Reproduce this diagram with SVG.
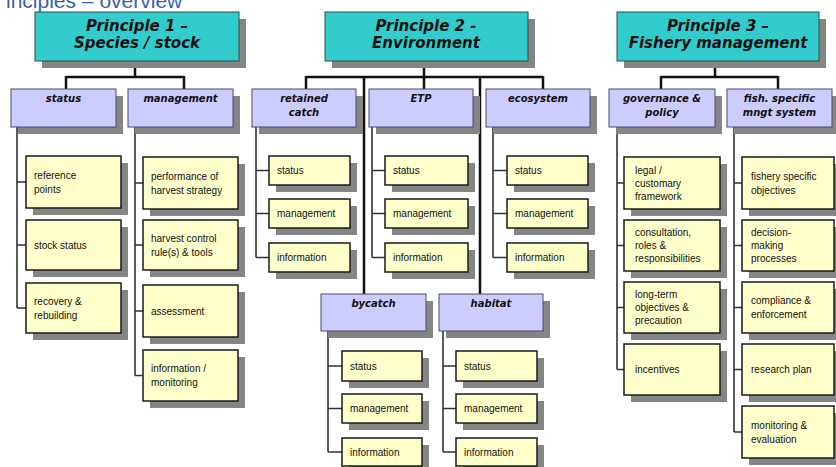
<svg xmlns="http://www.w3.org/2000/svg" width="836" height="467" viewBox="0 0 836 467">
<style>
.sh{fill:#858585}
.p{fill:#33CCCC;stroke:#2f4f4f;stroke-width:1}
.c{fill:#CCCCFF;stroke:#4a4a66;stroke-width:1}
.l{fill:#FFFFCC;stroke:#1a1a1a;stroke-width:1.5}
.ht{font-family:"DejaVu Sans",sans-serif;font-weight:bold;font-style:italic;font-size:15px;text-anchor:middle;fill:#111}
.ct{font-family:"DejaVu Sans",sans-serif;font-weight:bold;font-style:italic;font-size:10px;text-anchor:middle;fill:#111}
.lt{font-family:"Liberation Sans",Arial,sans-serif;font-size:10px;fill:#111}
.cn{stroke:#111;stroke-width:2.5;fill:none}
.lk{stroke:#333;stroke-width:1.6;fill:none}
.title{font-family:"Liberation Sans",Arial,sans-serif;font-size:21px;fill:#3a5fb0}
</style>
<rect width="836" height="467" fill="#ffffff"/>
<text class="title" x="6" y="8">inciples – overview</text>

<g id="connectors">
<path class="cn" d="M135 61V77M66 77H184M66 76V89M184 76V89"/>
<path class="cn" d="M424 61V77M306 77H543M306 76V89M424 76V89M543 76V89M364 77V294M480 77V294"/>
<path class="cn" d="M715 61V77M661 77H778M661 76V89M778 76V89"/>
<path class="lk" d="M17 127V308M17 182H26M17 245H26M17 308H26"/>
<path class="lk" d="M135 127V375.5M135 183H143M135 245H143M135 311H143M135 375.5H143"/>
<path class="lk" d="M256 127V257.5M256 170.5H269M256 213.5H269M256 257.5H269"/>
<path class="lk" d="M372 127V257.5M372 170.5H385M372 213.5H385M372 257.5H385"/>
<path class="lk" d="M493 127V257.5M493 170.5H507M493 213.5H507M493 257.5H507"/>
<path class="lk" d="M328 331V452M328 366H342M328 408.5H342M328 452H342"/>
<path class="lk" d="M443 331V452M443 366H456M443 408.5H456M443 452H456"/>
<path class="lk" d="M617 127V369.5M617 183H624M617 245.5H624M617 307.5H624M617 369.5H624"/>
<path class="lk" d="M734 127V432M734 183H742M734 245.5H742M734 307.5H742M734 369.5H742M734 432H742"/>
</g>

<g id="p1"><rect class="sh" x="42" y="19" width="204" height="49"/><rect class="p" x="35" y="12" width="204" height="49"/><text class="ht" x="137" y="31">Principle 1 –</text><text class="ht" x="137" y="48">Species / stock</text></g>
<g id="p2"><rect class="sh" x="332" y="19" width="203" height="49"/><rect class="p" x="325" y="12" width="203" height="49"/><text class="ht" x="426" y="31">Principle 2 -</text><text class="ht" x="426" y="48">Environment</text></g>
<g id="p3"><rect class="sh" x="624" y="19" width="202" height="49"/><rect class="p" x="617" y="12" width="202" height="49"/><text class="ht" x="718" y="31">Principle 3 –</text><text class="ht" x="718" y="48">Fishery management</text></g>

<g id="p1-status"><rect class="sh" x="18" y="96" width="105" height="38"/><rect class="c" x="11" y="89" width="105" height="38"/><text class="ct" x="63.5" y="102">status</text></g>
<g id="p1-management"><rect class="sh" x="135" y="96" width="105" height="38"/><rect class="c" x="128" y="89" width="105" height="38"/><text class="ct" x="180.5" y="102">management</text></g>
<g id="p2-retained"><rect class="sh" x="259" y="96" width="104" height="38"/><rect class="c" x="252" y="89" width="104" height="38"/><text class="ct" x="304" y="102">retained</text><text class="ct" x="304" y="116">catch</text></g>
<g id="p2-etp"><rect class="sh" x="376" y="96" width="104" height="38"/><rect class="c" x="369" y="89" width="104" height="38"/><text class="ct" x="421" y="102">ETP</text></g>
<g id="p2-ecosystem"><rect class="sh" x="493" y="96" width="104" height="38"/><rect class="c" x="486" y="89" width="104" height="38"/><text class="ct" x="538" y="102">ecosystem</text></g>
<g id="p2-bycatch"><rect class="sh" x="328" y="301" width="105" height="37"/><rect class="c" x="321" y="294" width="105" height="37"/><text class="ct" x="373.5" y="307">bycatch</text></g>
<g id="p2-habitat"><rect class="sh" x="446" y="301" width="104" height="37"/><rect class="c" x="439" y="294" width="104" height="37"/><text class="ct" x="491" y="307">habitat</text></g>
<g id="p3-governance"><rect class="sh" x="616" y="96" width="106" height="38"/><rect class="c" x="609" y="89" width="106" height="38"/><text class="ct" x="662" y="102">governance &amp;</text><text class="ct" x="662" y="116">policy</text></g>
<g id="p3-fishery"><rect class="sh" x="734" y="96" width="105" height="38"/><rect class="c" x="727" y="89" width="105" height="38"/><text class="ct" x="779.5" y="102">fish. specific</text><text class="ct" x="779.5" y="116">mngt system</text></g>

<g id="leaf-reference-points"><rect class="sh" x="33" y="163" width="95" height="52"/><rect class="l" x="26" y="156" width="95" height="52"/><text class="lt" x="34" y="178.5">reference</text><text class="lt" x="34" y="192.5">points</text></g>
<g id="leaf-stock-status"><rect class="sh" x="33" y="227" width="95" height="50"/><rect class="l" x="26" y="220" width="95" height="50"/><text class="lt" x="34" y="248.5">stock status</text></g>
<g id="leaf-recovery"><rect class="sh" x="33" y="290" width="95" height="50"/><rect class="l" x="26" y="283" width="95" height="50"/><text class="lt" x="34" y="304.5">recovery &amp;</text><text class="lt" x="34" y="318.5">rebuilding</text></g>

<g id="leaf-performance"><rect class="sh" x="150" y="164" width="95" height="52"/><rect class="l" x="143" y="157" width="95" height="52"/><text class="lt" x="151" y="179.5">performance of</text><text class="lt" x="151" y="193.5">harvest strategy</text></g>
<g id="leaf-hcr"><rect class="sh" x="150" y="227" width="95" height="50"/><rect class="l" x="143" y="220" width="95" height="50"/><text class="lt" x="151" y="241.5">harvest control</text><text class="lt" x="151" y="255.5">rule(s) &amp; tools</text></g>
<g id="leaf-assessment"><rect class="sh" x="150" y="292" width="95" height="52"/><rect class="l" x="143" y="285" width="95" height="52"/><text class="lt" x="151" y="314.5">assessment</text></g>
<g id="leaf-info-monitoring"><rect class="sh" x="150" y="357" width="95" height="51"/><rect class="l" x="143" y="350" width="95" height="51"/><text class="lt" x="151" y="372">information /</text><text class="lt" x="151" y="386">monitoring</text></g>

<g id="leaf-rc-status"><rect class="sh" x="276" y="163" width="81" height="29"/><rect class="l" x="269" y="156" width="81" height="29"/><text class="lt" x="277" y="174">status</text></g>
<g id="leaf-rc-management"><rect class="sh" x="276" y="206" width="81" height="29"/><rect class="l" x="269" y="199" width="81" height="29"/><text class="lt" x="277" y="217">management</text></g>
<g id="leaf-rc-information"><rect class="sh" x="276" y="250" width="81" height="29"/><rect class="l" x="269" y="243" width="81" height="29"/><text class="lt" x="277" y="261">information</text></g>

<g id="leaf-etp-status"><rect class="sh" x="392" y="163" width="83" height="29"/><rect class="l" x="385" y="156" width="83" height="29"/><text class="lt" x="393" y="174">status</text></g>
<g id="leaf-etp-management"><rect class="sh" x="392" y="206" width="83" height="29"/><rect class="l" x="385" y="199" width="83" height="29"/><text class="lt" x="393" y="217">management</text></g>
<g id="leaf-etp-information"><rect class="sh" x="392" y="250" width="83" height="29"/><rect class="l" x="385" y="243" width="83" height="29"/><text class="lt" x="393" y="261">information</text></g>

<g id="leaf-eco-status"><rect class="sh" x="514" y="163" width="81" height="29"/><rect class="l" x="507" y="156" width="81" height="29"/><text class="lt" x="515" y="174">status</text></g>
<g id="leaf-eco-management"><rect class="sh" x="514" y="206" width="81" height="29"/><rect class="l" x="507" y="199" width="81" height="29"/><text class="lt" x="515" y="217">management</text></g>
<g id="leaf-eco-information"><rect class="sh" x="514" y="250" width="81" height="29"/><rect class="l" x="507" y="243" width="81" height="29"/><text class="lt" x="515" y="261">information</text></g>

<g id="leaf-by-status"><rect class="sh" x="349" y="358" width="80" height="30"/><rect class="l" x="342" y="351" width="80" height="30"/><text class="lt" x="350" y="369.5">status</text></g>
<g id="leaf-by-management"><rect class="sh" x="349" y="401" width="80" height="29"/><rect class="l" x="342" y="394" width="80" height="29"/><text class="lt" x="350" y="412">management</text></g>
<g id="leaf-by-information"><rect class="sh" x="349" y="445" width="80" height="28"/><rect class="l" x="342" y="438" width="80" height="28"/><text class="lt" x="350" y="455.5">information</text></g>

<g id="leaf-hab-status"><rect class="sh" x="463" y="358" width="81" height="30"/><rect class="l" x="456" y="351" width="81" height="30"/><text class="lt" x="464" y="369.5">status</text></g>
<g id="leaf-hab-management"><rect class="sh" x="463" y="401" width="81" height="29"/><rect class="l" x="456" y="394" width="81" height="29"/><text class="lt" x="464" y="412">management</text></g>
<g id="leaf-hab-information"><rect class="sh" x="463" y="445" width="81" height="28"/><rect class="l" x="456" y="438" width="81" height="28"/><text class="lt" x="464" y="455.5">information</text></g>

<g id="leaf-legal"><rect class="sh" x="631" y="164" width="96" height="52"/><rect class="l" x="624" y="157" width="96" height="52"/><text class="lt" x="635" y="173.5">legal /</text><text class="lt" x="635" y="186.5">customary</text><text class="lt" x="635" y="199.5">framework</text></g>
<g id="leaf-consultation"><rect class="sh" x="631" y="227" width="96" height="51"/><rect class="l" x="624" y="220" width="96" height="51"/><text class="lt" x="635" y="236">consultation,</text><text class="lt" x="635" y="249">roles &amp;</text><text class="lt" x="635" y="262">responsibilities</text></g>
<g id="leaf-longterm"><rect class="sh" x="631" y="289" width="96" height="51"/><rect class="l" x="624" y="282" width="96" height="51"/><text class="lt" x="635" y="298">long-term</text><text class="lt" x="635" y="311">objectives &amp;</text><text class="lt" x="635" y="324">precaution</text></g>
<g id="leaf-incentives"><rect class="sh" x="631" y="351" width="96" height="51"/><rect class="l" x="624" y="344" width="96" height="51"/><text class="lt" x="635" y="373">incentives</text></g>

<g id="leaf-fishery-objectives"><rect class="sh" x="749" y="164" width="92" height="52"/><rect class="l" x="742" y="157" width="92" height="52"/><text class="lt" x="751" y="179.5">fishery specific</text><text class="lt" x="751" y="193.5">objectives</text></g>
<g id="leaf-decision"><rect class="sh" x="749" y="227" width="92" height="51"/><rect class="l" x="742" y="220" width="92" height="51"/><text class="lt" x="751" y="236">decision-</text><text class="lt" x="751" y="249">making</text><text class="lt" x="751" y="262">processes</text></g>
<g id="leaf-compliance"><rect class="sh" x="749" y="289" width="92" height="51"/><rect class="l" x="742" y="282" width="92" height="51"/><text class="lt" x="751" y="304">compliance &amp;</text><text class="lt" x="751" y="318">enforcement</text></g>
<g id="leaf-research"><rect class="sh" x="749" y="351" width="92" height="51"/><rect class="l" x="742" y="344" width="92" height="51"/><text class="lt" x="751" y="373">research plan</text></g>
<g id="leaf-monitoring"><rect class="sh" x="749" y="413" width="92" height="52"/><rect class="l" x="742" y="406" width="92" height="52"/><text class="lt" x="751" y="428.5">monitoring &amp;</text><text class="lt" x="751" y="442.5">evaluation</text></g>
</svg>
